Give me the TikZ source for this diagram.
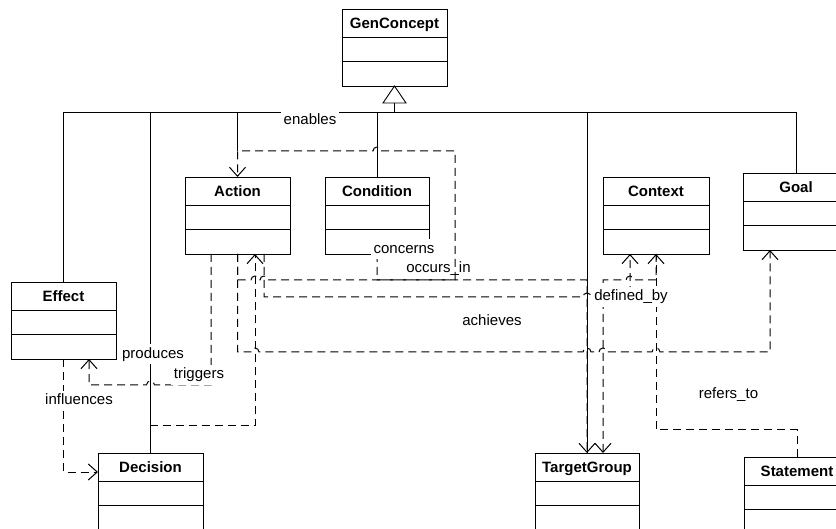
\documentclass[tikz,border=0pt]{standalone}
\usepackage{fontspec}
\setmainfont{Liberation Sans}
\usetikzlibrary{arrows.meta}

% UML class: name, left x, top y, width, title
\newcommand\umlclass[5]{%
  \node[classbox, minimum width=#4pt] (#1) at (#2,#3) {};
  \node[classtitle] (#1-title) at ({#2+#4/2},{#3+19.5}) {#5};
  \draw ({#2},{#3+28}) -- ({#2+#4},{#3+28});
  \draw ({#2},{#3+52}) -- ({#2+#4},{#3+52});
}

\begin{document}
\begin{tikzpicture}[x=1pt,y=1pt,yscale=-1,
  line width=0.9pt,
  classbox/.style={draw, fill=white, minimum height=77pt, inner sep=0pt,
    outer sep=0pt, anchor=north west},
  classtitle/.style={font=\fontsize{15}{18}\selectfont\bfseries, inner sep=0pt, anchor=base},
  assoc/.style={draw, line width=1pt, dash pattern=on 8pt off 5pt,
    -{Straight Barb[length=9pt,width=16pt]}},
  lbl/.style={font=\fontsize{15}{18}\selectfont, inner sep=3pt,
    text height=11pt, text depth=3pt, anchor=base},
  lblw/.style={lbl, fill=white},
]
\fill[white] (0,0) rectangle (836,529);
\clip (0,0) rectangle (836,529);

% classes
\umlclass{genc}{342}{9}{105}{GenConcept}
\umlclass{action}{185}{177}{105}{Action}
\umlclass{condition}{325}{177}{104}{Condition}
\umlclass{context}{603}{177}{106}{Context}
\umlclass{goal}{743}{173}{106}{Goal}
\umlclass{effect}{11}{282}{105}{Effect}
\umlclass{decision}{98}{453}{105}{Decision}
\umlclass{targetgroup}{535}{453}{104}{TargetGroup}
\umlclass{statement}{744}{457}{106}{Statement}

% generalisation tree
\coordinate (bus) at (0,112);
\coordinate (enbend) at (0,151);
\draw (effect.north) -- (effect.north |- bus) -- (goal.north |- bus) -- (goal.north);
\draw (decision.north) -- (decision.north |- bus);
\draw (condition.north) -- (condition.north |- bus);
\draw (targetgroup.north) -- (targetgroup.north |- bus);
\draw (action.north |- bus) -- (action.north |- enbend);
\draw[fill=white] (genc.south) -- ++(-11.5,17) -- ++(23,0) -- cycle;
\draw (genc.south) ++(0,17) -- (genc.south |- bus);

% associations
\draw[assoc] (condition.south) -- (377,280) -- (455,280) -- (455,151)
  -- (381,151) arc[start angle=0,end angle=-180,radius=4] -- (237.5,151)
  -- (action.north);
\draw[assoc] (action.south) -- (237.5,280) -- (251,280)
  arc[start angle=180,end angle=360,radius=4] -- (260,280)
  arc[start angle=180,end angle=360,radius=4] -- (587,280)
  -- (targetgroup.north);
\draw[assoc] (context.south) -- (656,280) -- (634,280)
  arc[start angle=0,end angle=-180,radius=4] -- (603,280)
  -- ([xshift=16pt]targetgroup.north);
\draw[assoc] ([xshift=26.5pt]action.south) -- (264,297) -- (583,297)
  arc[start angle=180,end angle=360,radius=4] -- (630,297)
  -- ([xshift=-26pt]context.south);
\draw[assoc] (action.south) -- (237.5,352) -- (251,352)
  arc[start angle=180,end angle=360,radius=4] -- (583,352)
  arc[start angle=180,end angle=360,radius=4] -- (599,352)
  arc[start angle=180,end angle=360,radius=4] -- (652,352)
  arc[start angle=180,end angle=360,radius=4] -- (770,352)
  -- ([xshift=-26pt]goal.south);
\draw[assoc] ([xshift=-26.5pt]action.south) -- (211,385) -- (154.5,385)
  arc[start angle=0,end angle=-180,radius=4] -- (89,385)
  -- ([xshift=25.5pt]effect.south);
\draw[assoc] (decision.north) -- (150.5,426) -- (255,426)
  -- ([xshift=17.5pt]action.south);
\coordinate (infl) at (63.5,472);
\draw[assoc] (effect.south) -- (infl) -- (infl -| decision.west);
\draw[assoc] (statement.north) -- (797,430) -- (656,430) -- (context.south);

% association labels
\node[lblw] (l-enables) at (310,125) {enables};
\node[lblw] (l-concerns) at (404,253.3) {concerns};
\node[lbl] (l-occurs) at (438.5,272.7) {occurs\_in};
\node[lblw] (l-defined) at (631,300.7) {defined\_by};
\node[lbl] (l-achieves) at (492,325.7) {achieves};
\node[lblw] (l-produces) at (153,358.3) {produces};
\node[lblw] (l-triggers) at (199,378.7) {triggers};
\node[lblw] (l-influences) at (79,405) {influences};
\node[lbl] (l-refers) at (728.5,398.3) {refers\_to};
\end{tikzpicture}
\end{document}
